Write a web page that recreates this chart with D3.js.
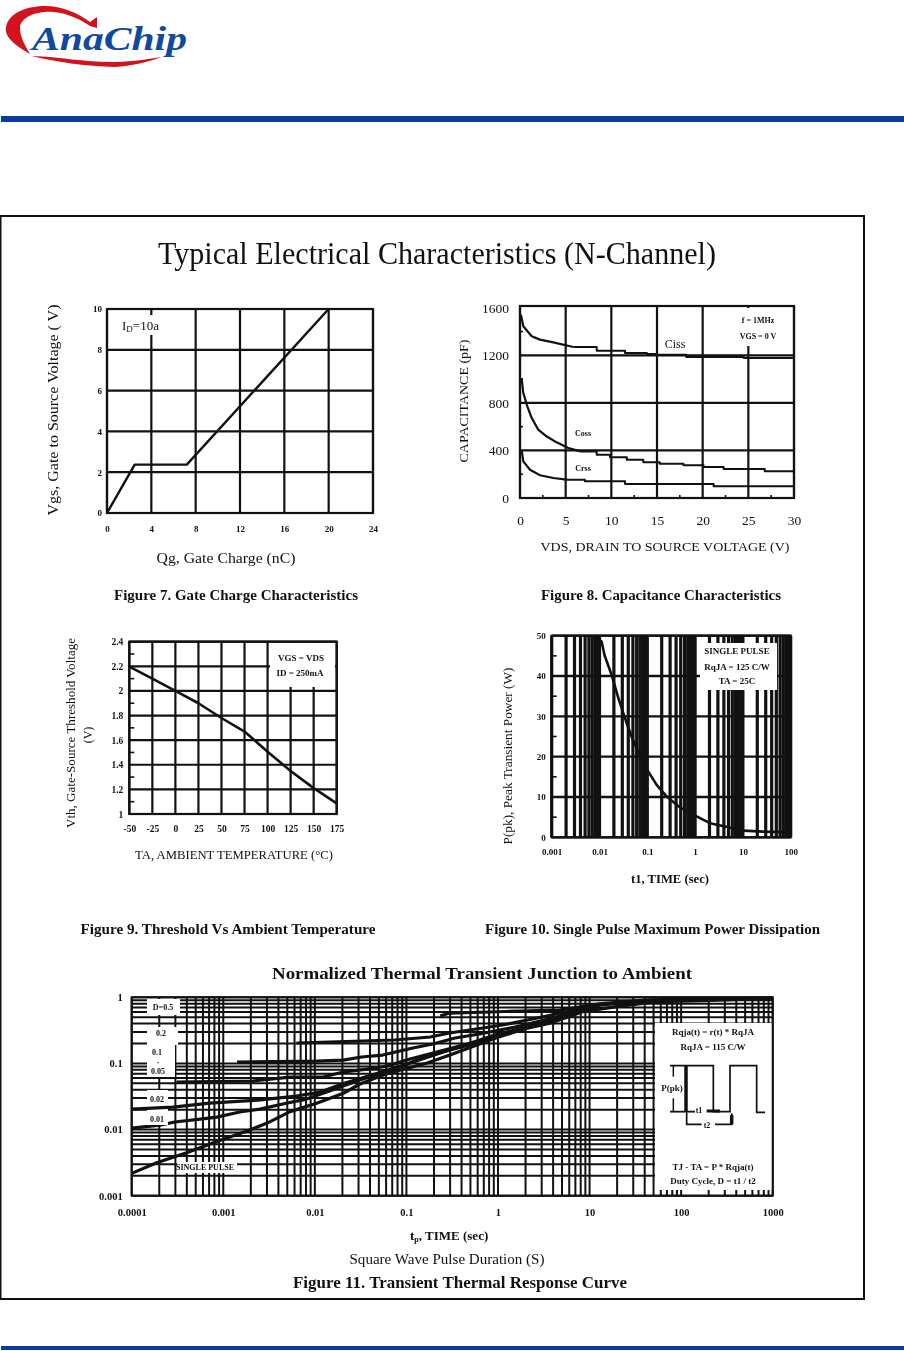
<!DOCTYPE html>
<html><head><meta charset="utf-8">
<script src="https://cdn.jsdelivr.net/npm/d3@7/dist/d3.min.js"></script>
<style>
html,body{margin:0;padding:0;background:#fff}
svg{display:block}
text{font-family:"Liberation Serif",serif;fill:#111}
</style></head><body>
<svg id="c" width="904" height="1351"></svg>
<script>
// ---------- Figure 7
const f7Qg=[0,2.5,7.2,20];
const f7Vgs=[0,2.37,2.37,10];
const f7XTicks=[0,4,8,12,16,20,24];
const f7YTicks=[0,2,4,6,8,10];
// ---------- Figure 8
const f8YTicks=[0,400,800,1200,1600];
const f8XTicks=[0,5,10,15,20,25,30];
const cissV=[0.1,0.36,1.28,2.19,3.65,5.84,8.4,11.5,13.9,15,18.2,24.5,29.9];
const cissC=[1542,1444,1360,1332,1309,1270,1239,1220,1211,1205,1186,1177,1169];
const cossV=[0.18,0.36,0.8,1.28,2,2.9,4,5.3,6.6,8.4,9.85,11.7,13.5,15.3,17.9,20.1,22.3,26.8,29.9];
const cossC=[1009,883,771,673,575,519,468,421,392,364,342,322,300,289,275,261,244,224,224];
const crssV=[0.18,0.36,1.1,2.19,3.65,5.1,7.1,11.5,21.2,29.9];
const crssC=[406,308,238,191,168,154,140,118,98,93];
// ---------- Figure 9
const f9Temp=[-50,-25,0,25,50,75,100,125,150,175];
const f9Vth=[2.197,2.10,2.0,1.9,1.78,1.67,1.506,1.35,1.21,1.087];
const f9YTicks=[1,1.2,1.4,1.6,1.8,2,2.2,2.4];
// ---------- Figure 10
const f10Time=[0.008,0.0111,0.0127,0.018,0.0248,0.037,0.0487,0.065,0.105,0.157,0.255,0.484,1,2.05,4.96,10.2,26.9,100];
const f10Power=[50,48.5,45.2,40.2,34.5,28.3,24.5,21.2,16.3,13,10.1,7.4,5.4,3.5,2.5,1.65,1.4,1.25];
const f10XTicks=[0.001,0.01,0.1,1,10,100];
const f10YTicks=[0,10,20,30,40,50];
// ---------- Figure 11 (log10 values)
const d05LogT=[-0.63,-0.53,-0.09,0.24,0.68,1.11,1.65,2.2,3];
const d05LogY=[-0.283,-0.238,-0.222,-0.207,-0.192,-0.10,-0.04,-0.026,-0.01];
const d02LogT=[-2.20,-1.84,-1.13,-0.74,-0.53,-0.31,0.05,0.43,0.79,1.11,1.73];
const d02LogY=[-0.691,-0.676,-0.646,-0.60,-0.54,-0.495,-0.419,-0.313,-0.207,-0.116,-0.056];
const d01LogT=[-2.85,-1.98,-1.69,-1.49,-1.26,-0.93,-0.71,-0.47,-0.20,0.24,0.68,1.11];
const d01LogY=[-0.979,-0.964,-0.949,-0.903,-0.873,-0.767,-0.706,-0.616,-0.555,-0.434,-0.283,-0.13];
const d005LogT=[-3.51,-2.68,-2.27,-1.91,-1.69,-1.43,-1.21,-1,-0.71,-0.42,-0.23,0.05,0.46,0.89];
const d005LogY=[-1.281,-1.266,-1.206,-1.206,-1.13,-1.085,-1.039,-0.949,-0.843,-0.737,-0.676,-0.555,-0.404,-0.192];
const d002LogT=[-4,-3.55,-3.15,-2.62,-2.20,-1.94,-1.67,-1.34,-0.96,-0.53,0,0.46,0.89];
const d002LogY=[-1.69,-1.66,-1.60,-1.554,-1.493,-1.433,-1.296,-1.16,-0.994,-0.797,-0.555,-0.404,-0.207];
const d001LogT=[-4,-3.69,-3.53,-3.25,-3.07,-2.82,-2.60,-2.30,-2.09,-1.84,-1.51,-1.13,-0.74,-0.31,0.02,0.51,0.95];
const d001LogY=[-1.977,-1.932,-1.886,-1.841,-1.811,-1.735,-1.69,-1.599,-1.539,-1.418,-1.251,-1.085,-0.873,-0.722,-0.585,-0.374,-0.192];
const singleLogT=[-4,-3.727,-3.40,-3.108,-2.763,-2.526,-2.271,-1.98,-1.689,-1.507,-1.253,-1,-0.78,-0.525,0,0.31,0.567,0.93,1.295,1.73,2.24,3];
const singleLogY=[-2.662,-2.501,-2.349,-2.198,-2.032,-1.906,-1.729,-1.603,-1.452,-1.311,-1.174,-1.074,-0.998,-0.872,-0.605,-0.469,-0.393,-0.216,-0.141,-0.065,-0.05,-0.015];
const f11XTicks=[0.0001,0.001,0.01,0.1,1,10,100,1000];
const f11YTicks=[0.001,0.01,0.1,1];

const svg=d3.select("#c");
const INK="#111";
// ---------- header logo and rules
const head=svg.append("g");
head.append("path").attr("fill","#d2131c").attr("d","M30,54C12,44 4,35 6,27C9,12 28,6 45,6C62,6 78,13 90,22L97,17L97,28L90,26C75,16 60,11 45,12C30,13 20,20 20,28C20,36 24,44 30,54Z");
head.append("path").attr("fill","#d2131c").attr("d","M32,56C55,62 85,66 115,67C130,66 150,62 161,57C145,60 125,62 110,62C85,62 60,57 32,56Z");
head.append("text").attr("x",32).attr("y",50).attr("textLength",155).attr("lengthAdjust","spacingAndGlyphs")
 .attr("font-size",34).attr("font-style","italic").attr("font-weight","bold").style("fill","#0f4a9e").text("AnaChip");
head.append("rect").attr("x",1).attr("y",116).attr("width",903).attr("height",6).attr("fill","#0a3c9c");
head.append("rect").attr("x",1).attr("y",1346).attr("width",903).attr("height",4).attr("fill","#0a3c9c");

const root=svg.append("g").style("filter","blur(0.6px)");
root.append("rect").attr("x",0.5).attr("y",216).attr("width",863.5).attr("height",1083).attr("fill","#fff").attr("stroke",INK).attr("stroke-width",2);

function label(s,x,y,size,opt={}){
  const yy=opt.rot?y:y+size*0.1;
  const t=root.append("text").attr("x",x).attr("y",yy).attr("font-size",size).attr("text-anchor",opt.anchor||"middle")
    .attr("dominant-baseline","middle");
  if(opt.bold)t.attr("font-weight","bold");
  if(opt.rot)t.attr("transform",`rotate(-90 ${x} ${y})`);
  if(opt.len)t.attr("textLength",opt.len).attr("lengthAdjust","spacingAndGlyphs");
  t.text(s);return t;
}
function whiteBox(g,x0,y0,x1,y1){g.append("rect").attr("x",x0).attr("y",y0).attr("width",x1-x0).attr("height",y1-y0).attr("fill","#fff");}
function grid(g,x,y,xv,yv,w,wx){
  const [x0,x1]=x.range(),[y0,y1]=y.range();
  g.append("g").selectAll("line").data(yv).join("line").attr("x1",x0).attr("x2",x1).attr("y1",d=>y(d)).attr("y2",d=>y(d)).attr("stroke",INK).attr("stroke-width",w);
  g.append("g").selectAll("line").data(xv).join("line").attr("y1",y0).attr("y2",y1).attr("x1",d=>x(d)).attr("x2",d=>x(d)).attr("stroke",INK).attr("stroke-width",wx||w);
}
function frame(g,x,y,w){
  const [x0,x1]=x.range(),[y0,y1]=y.range();
  g.append("rect").attr("x",x0).attr("y",y1).attr("width",x1-x0).attr("height",y0-y1).attr("fill","none").attr("stroke",INK).attr("stroke-width",w);
}
function axes(g,x,y,xv,yv,size,padX,padY,bold,fmt){
  const [x0,x1]=x.range(),[y0,y1]=y.range();
  const xa=g.append("g").attr("transform",`translate(0,${y0})`).call(d3.axisBottom(x).tickValues(xv).tickSize(0).tickPadding(padX).tickFormat(fmt||String));
  const ya=g.append("g").attr("transform",`translate(${x0},0)`).call(d3.axisLeft(y).tickValues(yv).tickSize(0).tickPadding(padY).tickFormat(fmt||String));
  [xa,ya].forEach(a=>{a.select(".domain").remove();a.selectAll("text").attr("font-size",size).attr("font-family","Liberation Serif").attr("font-weight",bold?"bold":"normal").style("fill",INK);});
}
function minorTicks(g,x,y,xv,yv,len){
  const [x0]=x.range(),[y0]=y.range();
  g.append("g").selectAll("line").data(yv).join("line").attr("x1",x0).attr("x2",x0+len).attr("y1",d=>y(d)).attr("y2",d=>y(d)).attr("stroke",INK).attr("stroke-width",1.6);
  g.append("g").selectAll("line").data(xv).join("line").attr("y1",y0).attr("y2",y0-len).attr("x1",d=>x(d)).attr("x2",d=>x(d)).attr("stroke",INK).attr("stroke-width",1.6);
}
function curve(g,xs,ys,x,y,w,cv){
  const pts=xs.map((d,i)=>[d,ys[i]]);
  g.append("path").datum(pts).attr("fill","none").attr("stroke",INK).attr("stroke-width",w).attr("stroke-linejoin","round")
   .attr("d",d3.line().x(d=>x(d[0])).y(d=>y(d[1])).curve(cv||d3.curveLinear));
}
// smooth for the steep start, staircase for the rest (as the plotted trace looks)
function curve8(g,xs,ys,x,y,split){
  curve(g,xs.slice(0,split+1),ys.slice(0,split+1),x,y,2.2);
  curve(g,xs.slice(split),ys.slice(split),x,y,2,d3.curveStepAfter);
}
const minors=(lo,hi,step,major)=>d3.range(lo,hi+step/2,step).filter(v=>!major.includes(v));

label("Typical Electrical Characteristics (N-Channel)",437,254,31,{len:558});

// ---------- Figure 7
{const g=root.append("g");
 const x=d3.scaleLinear([0,24],[107,373]),y=d3.scaleLinear([0,10],[513,309]);
 grid(g,x,y,f7XTicks,f7YTicks,2.2);
 whiteBox(g,122,315,165,335);
 curve(g,f7Qg,f7Vgs,x,y,2.4);
 frame(g,x,y,2.2);
 axes(g,x,y,f7XTicks,f7YTicks,9,13,5,true);
 const t=label("I",122,326,13,{anchor:"start"});
 t.append("tspan").attr("dy",3).attr("font-size",9).text("D");
 t.append("tspan").attr("dy",-3).text("=10a");
 label("Vgs, Gate to Source Voltage ( V)",55,410,15,{rot:1,len:211});
 label("Qg, Gate Charge (nC)",226,558,15,{len:139});
 label("Figure 7. Gate Charge Characteristics",236,595,14.5,{bold:1,len:244});
}
// ---------- Figure 8
{const g=root.append("g");
 const x=d3.scaleLinear([0,30],[520,794]),y=d3.scaleLinear([0,1615],[498,306]);
 grid(g,x,y,f8XTicks,f8YTicks.filter(v=>v<1600),2.2);
 whiteBox(g,730,308,792,346);
 minorTicks(g,x,y,minors(2.5,27.5,5,[]),minors(200,1400,400,[]),3);
 curve8(g,cissV,cissC,x,y,5);
 curve8(g,cossV,cossC,x,y,8);
 curve8(g,crssV,crssC,x,y,5);
 frame(g,x,y,2.2);
 axes(g,x,y,f8XTicks,f8YTicks,13.5,17,11,false);
 label("Ciss",675,344,12);
 label("Coss",583,433,8,{bold:1});
 label("Crss",583,468,8,{bold:1});
 label("f = 1MHz",758,320,8,{bold:1});
 label("VGS = 0 V",758,336,8,{bold:1});
 label("CAPACITANCE (pF)",465,401,13,{rot:1,len:123});
 label("VDS, DRAIN TO SOURCE VOLTAGE (V)",665,547,13.5,{len:249});
 label("Figure 8. Capacitance Characteristics",661,595,14.5,{bold:1,len:240});
}
// ---------- Figure 9
{const g=root.append("g");
 const x=d3.scaleLinear([-50,175],[129.3,336.7]),y=d3.scaleLinear([1,2.4],[814,641.7]);
 grid(g,x,y,f9Temp,f9YTicks,2.2);
 whiteBox(g,270,643,335,687);
 minorTicks(g,x,y,[],minors(1.1,2.3,0.2,[]),5);
 curve(g,f9Temp,f9Vth,x,y,2.6);
 frame(g,x,y,2.2);
 axes(g,x,y,f9Temp,f9YTicks,9.5,11,6,true);
 label("VGS = VDS",301,658,9,{bold:1});
 label("ID = 250mA",300,673,9,{bold:1});
 label("Vth, Gate-Source Threshold Voltage",72,733,13,{rot:1,len:190});
 label("(V)",89,735,12,{rot:1});
 label("TA, AMBIENT TEMPERATURE (°C)",234,855,12.5,{bold:0,len:198});
 label("Figure 9. Threshold Vs Ambient Temperature",228,929,14.5,{bold:1,len:295});
}
// ---------- Figure 10
{const g=root.append("g");
 const x=d3.scaleLog([0.001,100],[551.7,790.7]),y=d3.scaleLinear([0,50],[837.3,635.7]);
 grid(g,x,y,x.ticks(),f10YTicks,2.3,3.2);
 whiteBox(g,700,643,777,690);
 minorTicks(g,x,y,[],minors(5,45,10,[]),5);
 curve(g,f10Time,f10Power,x,y,2.6);
 frame(g,x,y,2.2);
 axes(g,x,y,f10XTicks,f10YTicks,9,11,6,true);
 label("SINGLE PULSE",737,651,9,{bold:1});
 label("RqJA = 125 C/W",737,667,9,{bold:1});
 label("TA = 25C",737,681,9,{bold:1});
 label("P(pk), Peak Transient Power (W)",509,756,13,{rot:1,len:177});
 label("t1, TIME (sec)",670,879,12,{bold:1,len:78});
 label("Figure 10. Single Pulse Maximum Power Dissipation",652.5,929,14.5,{bold:1,len:335});
}
// ---------- Figure 11
{const g=root.append("g");
 const x=d3.scaleLog([0.0001,1000],[131.7,772.7]),y=d3.scaleLog([0.001,1],[1195.7,997.3]);
 grid(g,x,y,x.ticks(),y.ticks(),2);
 whiteBox(g,655,1023,772.7,1190);
 whiteBox(g,177,1162,237,1173);
 whiteBox(g,147,1027,178,1045);
 whiteBox(g,147,1090,168,1125);
 const traces=[[d05LogT,d05LogY],[d02LogT,d02LogY],[d01LogT,d01LogY],[d005LogT,d005LogY],[d002LogT,d002LogY],[d001LogT,d001LogY],[singleLogT,singleLogY]];
 traces.forEach(([t,v])=>curve(g,t.map(e=>10**e),v.map(e=>10**e),x,y,3.2));
 whiteBox(g,147,999,180,1015);
 whiteBox(g,152,1028,171,1038);
 whiteBox(g,147,1045,175,1077);
 whiteBox(g,147,1094,166,1104);
 whiteBox(g,147,1114,168,1125);
 frame(g,x,y,2);
 axes(g,x,y,f11XTicks,f11YTicks,10.5,13,9,true);
 [["D=0.5",163,1007],["0.2",161,1033],["0.1",157,1052],["·",158,1062],["0.05",158,1071],["0.02",157,1099],["0.01",157,1119],["SINGLE PULSE",205,1167]]
  .forEach(d=>label(d[0],d[1],d[2],8,{bold:1}));
 label("Rqja(t) = r(t) * RqJA",713,1032,9,{bold:1});
 label("RqJA = 115 C/W",713,1047,9,{bold:1});
 label("P(pk)",672,1088,9,{bold:1});
 label("t1",699,1110,8,{bold:1});
 label("t2",707,1125,8,{bold:1});
 label("TJ - TA = P * Rqja(t)",713,1167,9,{bold:1});
 label("Duty Cycle, D = t1 / t2",713,1181,9,{bold:1});
 const sx=d3.scaleLinear([0,390],[650,780]),sy=d3.scaleLinear([0,555],[1015,1200]);
 const wave=d3.line().x(d=>sx(d[0])).y(d=>sy(d[1]));
 [[[[60,152],[190,152],[190,290],[240,290],[240,152],[320,152],[320,292],[345,292]],1.7],
  [[[108,152],[108,290]],3.5],[[[60,290],[135,290]],1.8],[[[170,288],[210,288]],3],
  [[[110,290],[110,328],[155,328]],1.7],[[[195,328],[245,328],[245,295]],1.7],[[[245,300],[245,328]],3.5],
  [[[70,152],[70,185]],1.5],[[[70,250],[70,290]],1.5]]
  .forEach(([p,w])=>g.append("path").attr("d",wave(p)).attr("fill","none").attr("stroke",INK).attr("stroke-width",w));
 label("Normalized Thermal Transient Junction to Ambient",482,973,17.5,{bold:1,len:420});
 const tp=label("t",410,1236,13,{anchor:"start",bold:1});
 tp.append("tspan").attr("dy",3).attr("font-size",8).text("p");
 tp.append("tspan").attr("dy",-3).text(", TIME (sec)");
 label("Square Wave Pulse Duration (S)",447,1259,14,{len:195});
 label("Figure 11. Transient Thermal Response Curve",460,1282,17,{bold:1,len:334});
}
</script>
</body></html>
